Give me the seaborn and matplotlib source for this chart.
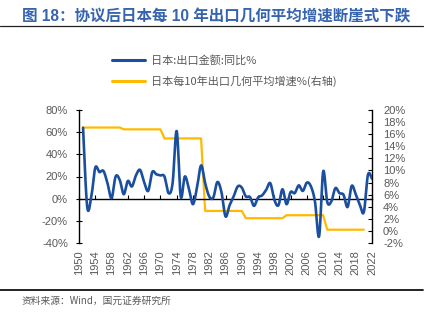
import numpy as np
import pandas as pd
import matplotlib
matplotlib.use("Agg")
import matplotlib.pyplot as plt
from matplotlib.lines import Line2D
from matplotlib.ticker import FixedLocator
import seaborn as sns

# Japan: annual export value, year-on-year growth (%)
years = list(range(1951, 2023))
export_yoy = [
    64, -7, 1, 28, 24, 25, 14, 0.5, 20, 17,
    4, 16, 11, 21, 26, 15, 7, 24, 22, 21,
    20, 5, 14, 61, 2, 20, 9, -5, 10, 30,
    14, 2, 1, 15, 6, -16, -6, 2, 11, 10,
    2, 1.5, -6.5, 1, 3, 8, 14, -1, -6, 8.5,
    -5, 6, 5, 12, 7, 14.5, 11, -3, -34, 24.5,
    -3, -2.5, 9.5, 5, 3.5, -7.5, 11.5, 4, -5.5, -12,
    21.5, 18,
]

# Japan: 10-year geometric average export growth (%), one value per decade
decade_start = [1951, 1961, 1971, 1981, 1991, 2001, 2011]
decade_end = [1960, 1970, 1980, 1990, 2000, 2010, 2020]
decade_rate = [17.1, 16.8, 15.3, 3.3, 2.1, 2.6, 0.2]

left_ticks = [-40, -20, 0, 20, 40, 60, 80]
right_ticks = list(range(-2, 21, 2))
year_ticks = list(range(1950, 2023, 4))

title = "图 18：协议后日本每 10 年出口几何平均增速断崖式下跌"
label_yoy = "日本:出口金额:同比%"
label_geo = "日本每10年出口几何平均增速%(右轴)"
source = "资料来源：Wind，国元证券研究所"

BLUE = "#1A4FA0"
GOLD = "#FFBA00"
GREY = "#595959"
TITLE_BLUE = "#3563AE"


def smooth_path(x, y, steps=24):
    """Cubic Bezier path through every point (Catmull-Rom style smoothing)."""
    pts = np.column_stack([x, y]).astype(float)
    padded = np.vstack([pts[0], pts, pts[-1]])
    t = np.linspace(0, 1, steps, endpoint=False)[:, None]
    parts = []
    for i in range(len(pts) - 1):
        p0, p1, p2, p3 = padded[i], padded[i + 1], padded[i + 2], padded[i + 3]
        c1 = p1 + (p2 - p0) / 6
        c2 = p2 - (p3 - p1) / 6
        parts.append((1 - t) ** 3 * p1 + 3 * (1 - t) ** 2 * t * c1
                     + 3 * (1 - t) * t ** 2 * c2 + t ** 3 * p2)
    parts.append(pts[-1:])
    out = np.vstack(parts)
    return out[:, 0], out[:, 1]


sns.set_theme(style="white")
plt.rcParams["font.family"] = ["Liberation Sans", "Noto Sans CJK SC"]
plt.rcParams["axes.unicode_minus"] = False

W, H = 433, 321
fig = plt.figure(figsize=(W / 100, H / 100), dpi=100)
fig.patch.set_facecolor("white")

ax = fig.add_axes([79 / W, 1 - 243 / H, (372 - 79) / W, (243 - 110) / H])
ax2 = ax.twinx()

# Decade averages drawn as a stepped series
geo_years = []
geo_vals = []
for s, e, r in zip(decade_start, decade_end, decade_rate):
    for yr in range(s, e + 1):
        geo_years.append(yr)
        geo_vals.append(r)
geo_df = pd.DataFrame({"year": geo_years, "rate": geo_vals})
sns.lineplot(data=geo_df, x="year", y="rate", ax=ax2, color=GOLD,
             linewidth=1.6, estimator=None, sort=False, legend=False)
for ln in ax2.get_lines():
    ln.set_solid_joinstyle("round")

sx, sy = smooth_path(years, export_yoy)
sns.lineplot(x=sx, y=sy, ax=ax, color=BLUE, linewidth=1.9,
             estimator=None, sort=False, legend=False)

ax.set_zorder(ax2.get_zorder() + 1)
ax.patch.set_visible(False)

ax.set_xlim(1950, 2022)
ax.set_ylim(-40, 80)
ax2.set_ylim(-2, 20)

ax.yaxis.set_major_locator(FixedLocator(left_ticks))
ax.set_yticklabels([f"{v}%" for v in left_ticks])
ax2.yaxis.set_major_locator(FixedLocator(right_ticks))
ax2.set_yticklabels([f"{v}%" for v in right_ticks])
ax.xaxis.set_major_locator(FixedLocator(year_ticks))
ax.set_xticklabels([str(v) for v in year_ticks], rotation=90)
ax.set_xlabel("")
ax.set_ylabel("")
ax2.set_ylabel("")

for a in (ax, ax2):
    for side in ("top", "bottom"):
        a.spines[side].set_visible(False)
    a.grid(False)
ax.spines["right"].set_visible(False)
ax2.spines["left"].set_visible(False)
ax.spines["left"].set_color("black")
ax.spines["left"].set_linewidth(1.0)
ax2.spines["right"].set_color("black")
ax2.spines["right"].set_linewidth(1.0)

ax.tick_params(axis="y", which="major", direction="inout", length=4, width=0.8,
               color="black", labelsize=8, labelcolor=GREY, pad=6, left=True)
ax2.tick_params(axis="y", which="major", direction="in", length=3, width=0.8,
                color="black", labelsize=8, labelcolor=GREY, pad=8, right=True)
ax.tick_params(axis="x", which="major", length=0, labelsize=8,
               labelcolor=GREY, pad=5, bottom=True)

# Horizontal axis line at zero with small upward tick marks
zero_frac = (0 - (-40)) / (80 - (-40))
zx = ax.secondary_xaxis(zero_frac)
zx.set_xticks(year_ticks)
zx.set_xticklabels([])
zx.tick_params(axis="x", direction="in", length=3, width=0.8, color="black")
zx.spines["bottom"].set_color("black")
zx.spines["bottom"].set_linewidth(1.0)
zx.spines["top"].set_visible(False)

# Legend
handles = [Line2D([0], [0], color=BLUE, linewidth=2.2),
           Line2D([0], [0], color=GOLD, linewidth=2.2)]
fig.legend(handles, [label_yoy, label_geo], loc="upper left",
           bbox_to_anchor=(112 / W, 1 - 55 / H), frameon=False,
           fontsize=8, labelcolor=GREY, handlelength=3.0,
           handletextpad=0.5, labelspacing=0.85, borderpad=0,
           borderaxespad=0, prop={"family": ["Noto Sans CJK SC"], "size": 8})

# Title, rules and source note
fig.text(22 / W, 1 - 17 / H, title, fontsize=11.2, fontweight="bold",
         color=TITLE_BLUE, va="center", ha="left",
         family=["Liberation Sans", "Noto Sans CJK SC"])
fig.add_artist(Line2D([0, 423 / W], [1 - 25.5 / H, 1 - 25.5 / H],
                      color="#222222", linewidth=0.9))
fig.add_artist(Line2D([0, 423 / W], [1 - 289.5 / H, 1 - 289.5 / H],
                      color="#111111", linewidth=1.3))
fig.text(22 / W, 1 - 301 / H, source, fontsize=7, color=GREY,
         va="center", ha="left", family=["Noto Sans CJK SC", "DejaVu Sans"])

fig.savefig("out.png", dpi=100, facecolor="white")
